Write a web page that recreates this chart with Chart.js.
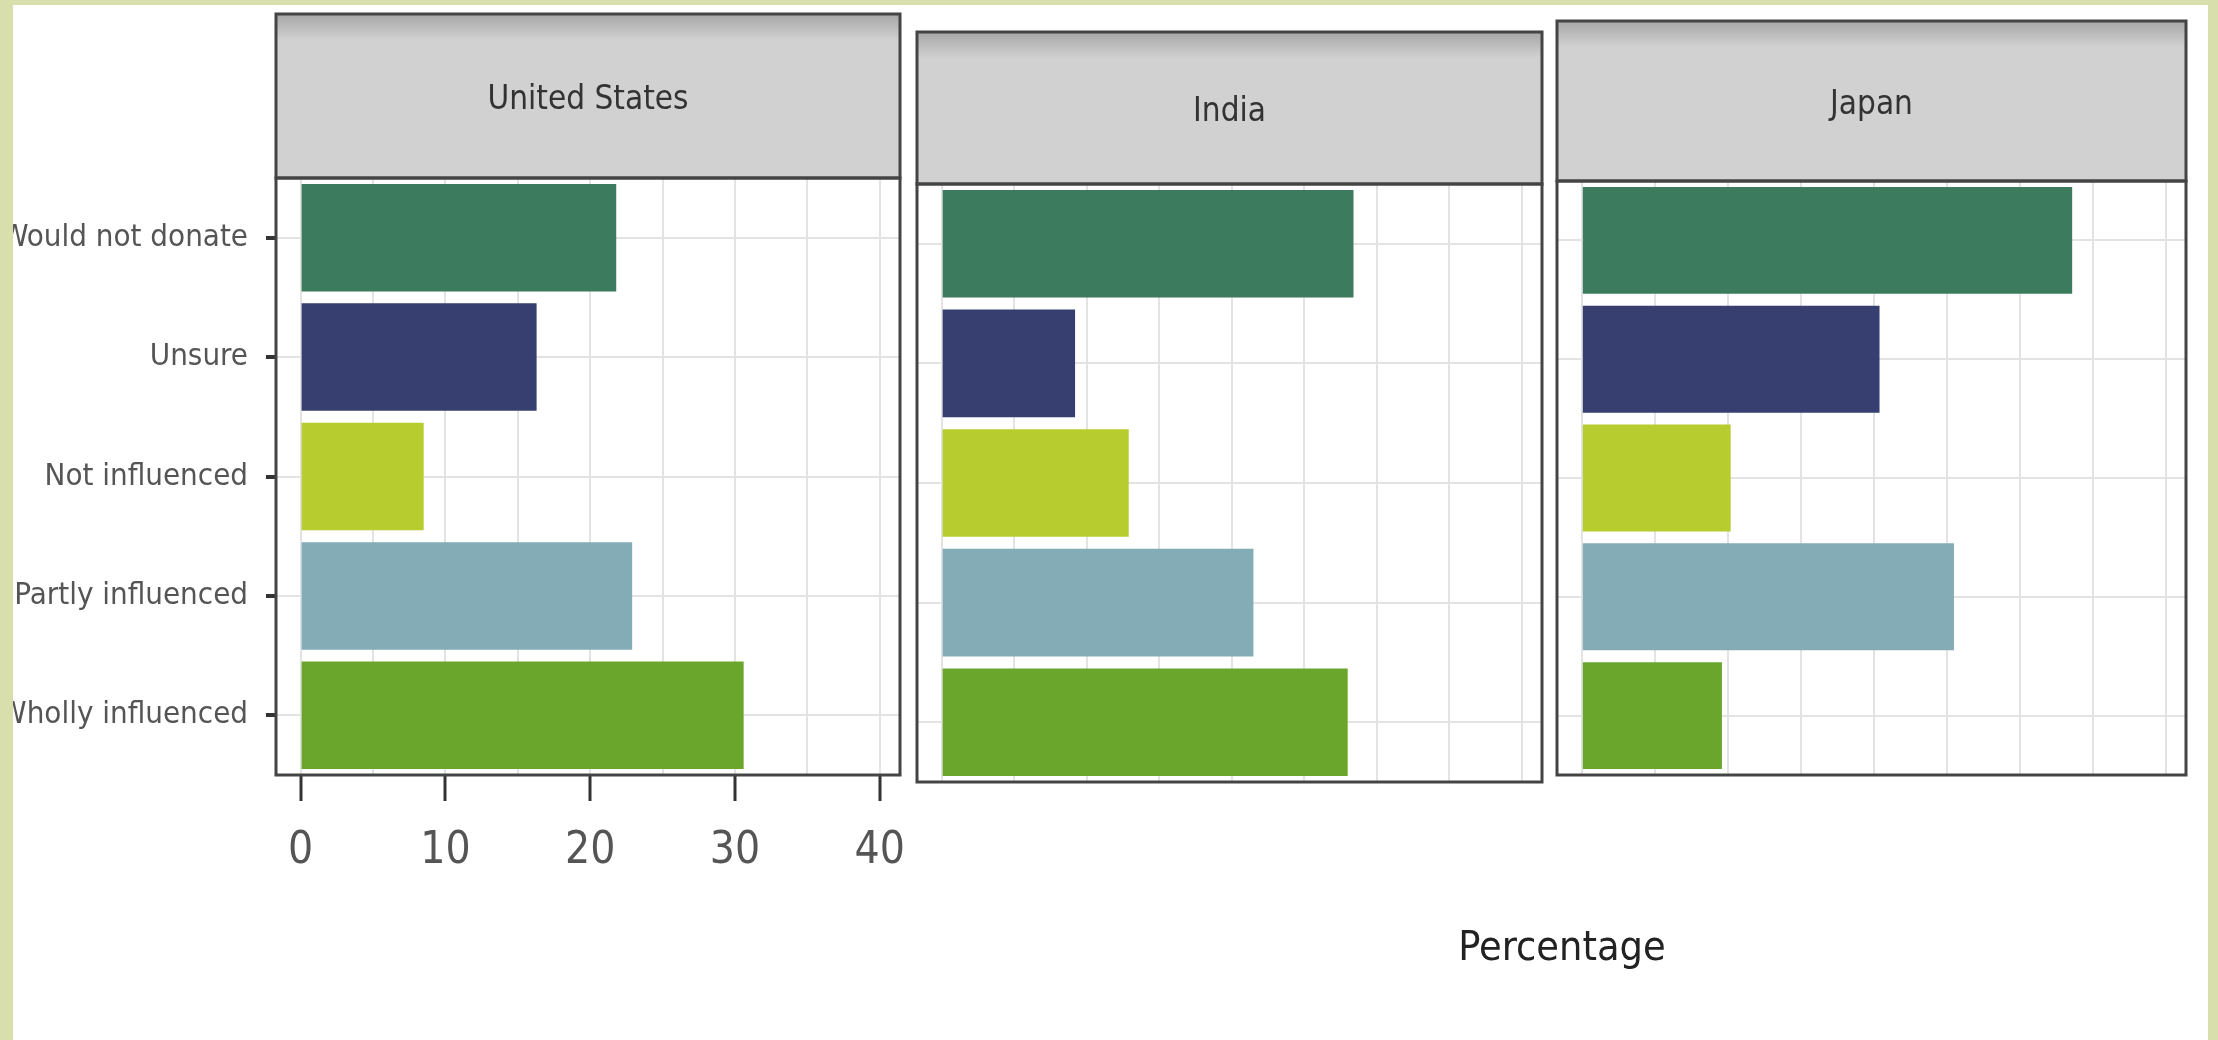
<!DOCTYPE html>
<html>
<head>
<meta charset="utf-8">
<script src="https://cdn.jsdelivr.net/npm/chart.js@4.4.1/dist/chart.umd.min.js"></script>
<style>
  html, body { margin: 0; padding: 0; }
  body { width: 2218px; height: 1040px; background: #d9dfac; position: relative; overflow: hidden; }
  #paper { position: absolute; left: 13px; top: 5px; width: 2195px; height: 1035px; background: #fff; }
  canvas { position: absolute; left: 0; top: 0; }
  #xtitle { position: absolute; left: 1442px; width: 240px; top: 922px; text-align: center;
    font-family: 'DejaVu Sans Condensed', 'Liberation Sans Narrow', sans-serif; font-size: 41px; color: #222; }
</style>
</head>
<body>
<div id="paper"></div>
<canvas id="cus" width="2218" height="1040"></canvas>
<canvas id="cin" width="2218" height="1040"></canvas>
<canvas id="cjp" width="2218" height="1040"></canvas>
<div id="xtitle">Percentage</div>
<script>
// categorias (de arriba hacia abajo) y valores
const categorias = ['Would not donate', 'Unsure', 'Not influenced', 'Partly influenced', 'Wholly influenced'];
const paises = ['United States', 'India', 'Japan'];
const valoresUS = [21.8, 16.3, 8.5, 22.9, 30.6];
const valoresIndia = [28.4, 9.2, 12.9, 21.5, 28.0];
const valoresJapon = [33.6, 20.4, 10.2, 25.5, 9.6];
const ticksX = [0, 10, 20, 30, 40];
const colores = ['#3d7b5f', '#363f70', '#b6cc2f', '#84acb7', '#69a62b'];

const fuente = "'DejaVu Sans Condensed', 'Liberation Sans Narrow', sans-serif";
const gris = '#e3e3e3';

// Dibuja la franja gris con el nombre del pais y el borde del panel
const faceta = {
    id: 'faceta',
    afterDraw(chart, args, opts) {
        const ctx = chart.ctx;
        const a = chart.chartArea;
        ctx.save();
        let g = ctx.createLinearGradient(0, opts.top, 0, opts.top + 26);
        g.addColorStop(0, '#a6a6a6');
        g.addColorStop(1, '#d1d1d1');
        ctx.fillStyle = g;
        ctx.fillRect(a.left, opts.top, a.right - a.left, a.top - opts.top);
        ctx.strokeStyle = '#444';
        ctx.lineWidth = 3;
        ctx.strokeRect(a.left, opts.top, a.right - a.left, a.top - opts.top);
        ctx.strokeRect(a.left, a.top, a.right - a.left, a.bottom - a.top);
        ctx.fillStyle = '#333';
        ctx.font = '33px ' + fuente;
        ctx.textAlign = 'center';
        ctx.textBaseline = 'middle';
        ctx.fillText(opts.text, (a.left + a.right) / 2, (opts.top + a.top) / 2 + 4);
        ctx.restore();
    }
};

// Un panel por pais
function panel(id, nombre, valores, caja, conEjes) {
    let anchoY = conEjes ? caja.left - 13 : 0;
    let altoX = conEjes ? 130 : 0;
    let chart = new Chart(document.getElementById(id).getContext('2d'), {
        type: 'bar',
        data: {
            labels: categorias,
            datasets: [{
                data: valores,
                backgroundColor: colores,
                borderWidth: 0,
                barPercentage: 0.9,
                categoryPercentage: 1.0
            }]
        },
        options: {
            indexAxis: 'y',
            responsive: false,
            animation: false,
            layout: {
                padding: {
                    left: caja.left - anchoY,
                    right: 2218 - caja.right,
                    top: caja.top,
                    bottom: 1040 - caja.bottom - altoX
                }
            },
            scales: {
                x: {
                    min: -1.7,
                    max: 41.4,
                    afterFit: s => { s.height = altoX; },
                    border: { display: false },
                    grid: {
                        color: gris,
                        lineWidth: 2,
                        drawTicks: conEjes,
                        tickLength: 26,
                        tickWidth: 3,
                        tickColor: c => ticksX.includes(c.tick.value) ? '#333' : 'rgba(0,0,0,0)'
                    },
                    ticks: {
                        display: conEjes,
                        stepSize: 5,
                        includeBounds: false,
                        autoSkip: false,
                        maxRotation: 0,
                        padding: 24,
                        color: '#555',
                        font: { family: fuente, size: 44 },
                        callback: v => ticksX.includes(v) ? v : ''
                    }
                },
                y: {
                    afterFit: s => { s.width = anchoY; },
                    border: { display: false },
                    grid: {
                        color: gris,
                        lineWidth: 2,
                        offset: false,
                        drawTicks: conEjes,
                        tickLength: 10,
                        tickWidth: 4,
                        tickColor: '#333'
                    },
                    ticks: {
                        display: conEjes,
                        padding: 18,
                        color: '#555',
                        font: { family: fuente, size: 31 }
                    }
                }
            },
            plugins: {
                legend: { display: false },
                tooltip: { enabled: false },
                faceta: { text: nombre, top: caja.stripTop }
            }
        },
        plugins: [faceta]
    });
    return chart;
}

panel('cus', paises[0], valoresUS, { left: 276, right: 900, top: 178, bottom: 775, stripTop: 14 }, true);
panel('cin', paises[1], valoresIndia, { left: 917, right: 1542, top: 184, bottom: 782, stripTop: 32 }, false);
panel('cjp', paises[2], valoresJapon, { left: 1557, right: 2186, top: 181, bottom: 775, stripTop: 21 }, false);
</script>
</body>
</html>
